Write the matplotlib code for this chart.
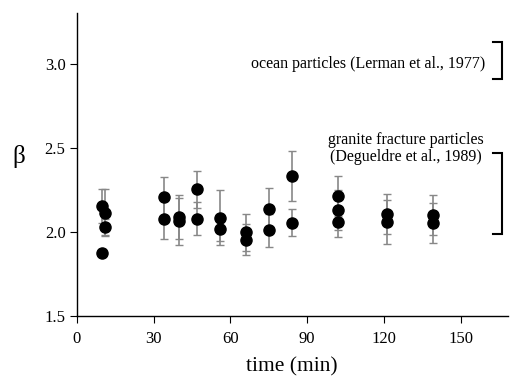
import matplotlib
matplotlib.use("Agg")
import matplotlib.pyplot as plt

plt.rcParams['font.family'] = ['Liberation Serif', 'DejaVu Serif']

# data: time (min), beta, error
time = [10, 10, 11, 11, 34, 34, 40, 40, 47, 47, 56, 56, 66, 66, 75, 75, 84, 84,
        102, 102, 102, 121, 121, 139, 139]
beta = [2.155, 1.877, 2.116, 2.03, 2.207, 2.08, 2.09, 2.064, 2.255, 2.08, 2.086, 2.02,
        1.998, 1.956, 2.135, 2.01, 2.334, 2.056, 2.215, 2.134, 2.058, 2.11, 2.06, 2.10, 2.056]
err = [0.10, 0.02, 0.14, 0.05, 0.12, 0.12, 0.13, 0.14, 0.11, 0.10, 0.165, 0.07,
       0.11, 0.09, 0.125, 0.10, 0.15, 0.08, 0.12, 0.12, 0.09, 0.12, 0.13, 0.12, 0.12]

brackets = [(2.91, 3.135), (1.99, 2.47)]
ocean_label = "ocean particles (Lerman et al., 1977)"
granite_label = "granite fracture particles\n(Degueldre et al., 1989)"

fig = plt.figure(figsize=(5.12, 3.78), dpi=100)
ax = fig.add_axes([0.1498, 0.164, 0.842, 0.8016])

eb = ax.errorbar(time, beta, yerr=err, fmt='o', color='black', markersize=8,
                 ecolor='#888888', elinewidth=1.2, capsize=3, capthick=1.0, zorder=3)
for cl in eb[1]:
    cl.set_color('black')

# reference ranges on the right
for lo, hi in brackets:
    ax.plot([162.5, 166, 166, 162.5], [hi, hi, lo, lo], color='black', lw=1.5,
            clip_on=False, solid_joinstyle='miter')

ax.text(159.5, 3.0, ocean_label, ha='right', va='center', fontsize=11.5)
ax.text(128.5, 2.497, granite_label, ha='center', va='center', fontsize=11.5,
        linespacing=1.05)

ax.set_xlim(0, 168.3)
ax.set_ylim(1.5, 3.306)
ax.set_xticks([0, 30, 60, 90, 120, 150])
ax.set_yticks([1.5, 2.0, 2.5, 3.0])
ax.set_yticklabels(['1.5', '2.0', '2.5', '3.0'])
ax.tick_params(direction='out', length=5, width=0.8, labelsize=12, pad=3)
ax.tick_params(axis='x', pad=6)

for s in ['top', 'right']:
    ax.spines[s].set_visible(False)
for s in ['left', 'bottom']:
    ax.spines[s].set_linewidth(1.0)

ax.set_xlabel('time (min)', fontsize=15.5, labelpad=7)
ax.set_ylabel('β', fontsize=18, rotation=0, va='center', ha='center')
ax.yaxis.set_label_coords(-0.135, 0.525)

fig.savefig('out.png', dpi=100)
